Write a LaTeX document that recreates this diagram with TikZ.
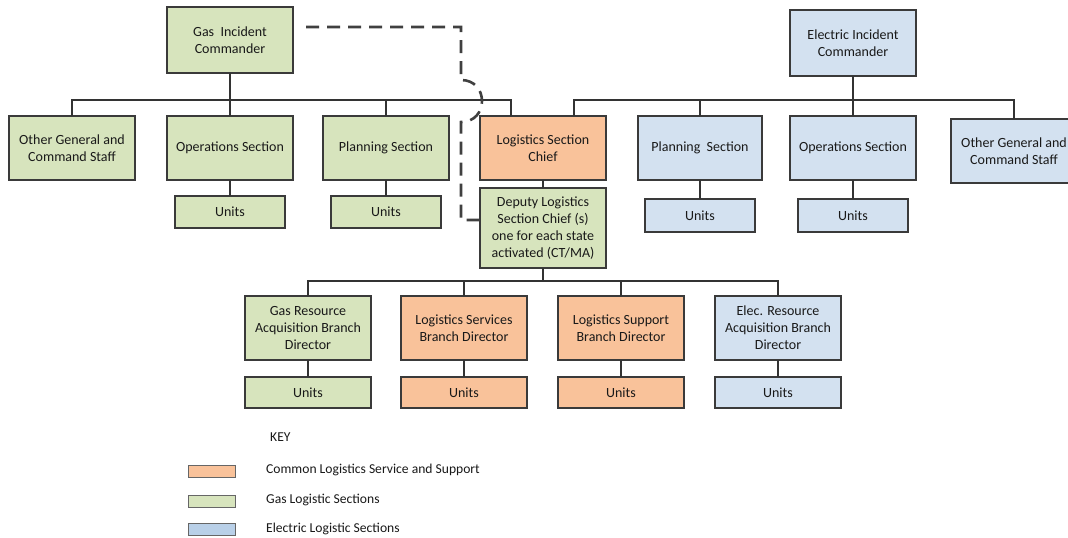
\documentclass[tikz,border=0pt]{standalone}
\usepackage{fontspec}
\setmainfont{Carlito}
\definecolor{gasfill}{HTML}{D7E4BD}
\definecolor{logfill}{HTML}{F9C29A}
\definecolor{elecfill}{HTML}{D3E1F0}
\definecolor{keyblue}{HTML}{B9D0E8}
\definecolor{edge}{HTML}{3A3A3A}
\definecolor{linecol}{HTML}{333333}
\tikzset{
  box/.style={draw=edge, line width=1.4pt, inner sep=2pt, outer sep=0pt, align=center,
    font=\fontsize{14}{17}\selectfont, text=black!90},
  gasbox/.style={box, fill=gasfill},
  logbox/.style={box, fill=logfill},
  elecbox/.style={box, fill=elecfill},
  big/.style={minimum width=126pt, minimum height=64pt},
  unitbox/.style={minimum width=110pt, minimum height=32pt},
  conn/.style={draw=linecol, line width=2.9pt},
  link/.style={draw=linecol, line width=2.1pt},
  dashconn/.style={draw=black!75, line width=2.6pt, dash pattern=on 13pt off 8pt},
  swatch/.style={draw=black!60, line width=1pt, minimum width=47pt, minimum height=12pt, inner sep=0pt, outer sep=0pt},
  keytext/.style={anchor=west, inner sep=0pt, font=\fontsize{13.6}{16}\selectfont, text=black!90}
}
\begin{document}
\begin{tikzpicture}[x=1pt,y=-1pt]
\useasboundingbox[fill=white] (0,0) rectangle (1068,538);
% top commanders
\node[gasbox, minimum width=126pt, minimum height=66pt] (gic) at (230,40) {Gas\ \ Incident\\Commander};
\node[elecbox, minimum width=126pt, minimum height=66pt] (eic) at (853,43) {Electric Incident\\Commander};
% gas row
\node[gasbox, big] (og1) at (72,148) {Other General and\\Command Staff};
\node[gasbox, big] (ops1) at (230,148) {Operations Section};
\node[gasbox, big] (plan1) at (386,148) {Planning Section};
\node[logbox, big] (log) at (543,148) {Logistics Section\\Chief};
% electric row
\node[elecbox, minimum width=124pt, minimum height=64pt] (plan2) at (700,148) {Planning\ \ Section};
\node[elecbox, big] (ops2) at (853,148) {Operations Section};
\node[elecbox, big] (og2) at (1014,151) {Other General and\\Command Staff};
% units row 1
\node[gasbox, unitbox] (u1) at (230,212) {Units};
\node[gasbox, unitbox] (u2) at (386,212) {Units};
\node[elecbox, unitbox, minimum height=33pt] (u3) at (700,215.5) {Units};
\node[elecbox, unitbox, minimum height=33pt] (u4) at (853,215.5) {Units};
% deputy
\node[gasbox, minimum width=126pt, minimum height=80pt] (dep) at (543,228) {Deputy Logistics\\Section Chief (s)\\one for each state\\activated (CT/MA)};
% branch row
\node[gasbox, big] (b1) at (308,328) {Gas Resource\\Acquisition Branch\\Director};
\node[logbox, big] (b2) at (464,328) {Logistics Services\\Branch Director};
\node[logbox, big] (b3) at (621,328) {Logistics Support\\Branch Director};
\node[elecbox, big] (b4) at (778,328) {Elec. Resource\\Acquisition Branch\\Director};
% units row 2
\node[gasbox, minimum width=126pt, minimum height=31pt] (v1) at (308,392.5) {Units};
\node[logbox, minimum width=126pt, minimum height=31pt] (v2) at (464,392.5) {Units};
\node[logbox, minimum width=126pt, minimum height=31pt] (v3) at (621,392.5) {Units};
\node[elecbox, minimum width=126pt, minimum height=31pt] (v4) at (778,392.5) {Units};
% bar coordinates
\coordinate (gbar) at (0,100);
\coordinate (ebar) at (0,100);
\coordinate (bbar) at (0,281);
\coordinate (logL) at ([xshift=-32pt]log.north);
\coordinate (logR) at ([xshift=31pt]log.north);
% gas connectors
\draw[conn] (og1.north) |- (logL |- gbar) -- (logL);
\draw[link] (gic.south) -- (ops1.north);
\draw[link] (plan1.north) -- (plan1.north |- gbar);
% electric connectors
\draw[conn] (logR) |- (og2.north |- ebar) -- (og2.north);
\draw[link] (eic.south) -- (ops2.north);
\draw[link] (plan2.north) -- (plan2.north |- ebar);
% units links
\draw[link] (ops1.south) -- (u1.north);
\draw[link] (plan1.south) -- (u2.north);
\draw[link] (plan2.south) -- (u3.north);
\draw[link] (ops2.south) -- (u4.north);
\draw[link] (log.south) -- (dep.north);
% bottom bar
\draw[conn] (b1.north) |- (b4.north |- bbar) -- (b4.north);
\draw[link] (dep.south) -- (dep.south |- bbar);
\draw[link] (b2.north) -- (b2.north |- bbar);
\draw[link] (b3.north) -- (b3.north |- bbar);
\draw[link] (b1.south) -- (v1.north);
\draw[link] (b2.south) -- (v2.north);
\draw[link] (b3.south) -- (v3.north);
\draw[link] (b4.south) -- (v4.north);
% dashed coordination line
\coordinate (dA) at (461,27);
\coordinate (dB) at (461,80);
\coordinate (dC) at (461,122);
\draw[dashconn] ([xshift=13pt,yshift=13pt]gic.east) -- (dA) -- (dB)
  .. controls (489,80) and (489,122) .. (dC) |- ([yshift=8pt]dep.west);
% key
\node[keytext] (key) at (270,437) {KEY};
\node[swatch, fill=logfill] (s1) at (211.5,471) {};
\node[swatch, fill=gasfill] (s2) at (211.5,501) {};
\node[swatch, fill=keyblue] (s3) at (211.5,529) {};
\node[keytext] (k1) at (266,470) {Common Logistics Service and Support};
\node[keytext] (k2) at (266,500) {Gas Logistic Sections};
\node[keytext] (k3) at (266,529) {Electric Logistic Sections};
\end{tikzpicture}
\end{document}
